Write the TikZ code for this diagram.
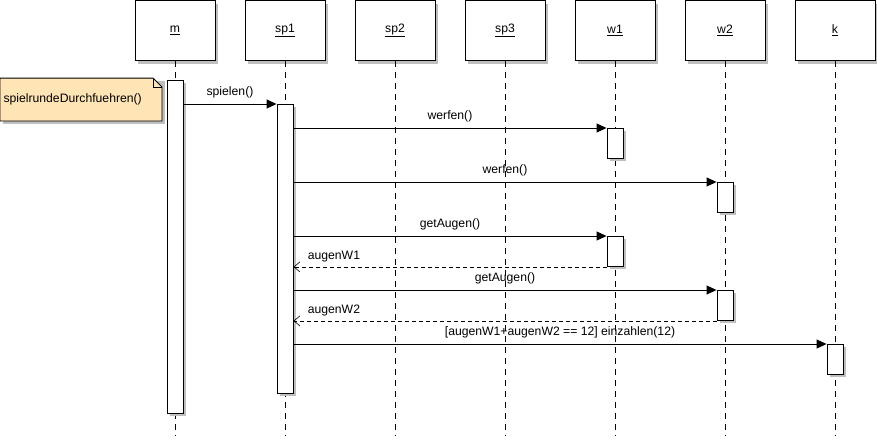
\documentclass[tikz,border=0pt]{standalone}
\usepackage{fontspec}
\setmainfont{Liberation Sans}
\usetikzlibrary{arrows.meta, shadows, calc}
\definecolor{notefill}{RGB}{255,228,181}

\begin{document}
\begin{tikzpicture}[x=1pt, y=-1pt, line width=0.9pt,
  head/.style={draw, fill=white, minimum width=80pt, minimum height=60pt, inner sep=0pt,
    drop shadow={shadow xshift=3pt, shadow yshift=-3pt, fill=black!25, opacity=1}},
  act/.style={draw, fill=white, minimum width=16pt, inner sep=0pt, anchor=north,
    drop shadow={shadow xshift=3pt, shadow yshift=-3pt, fill=black!25, opacity=1}},
  lifeline/.style={dash pattern=on 6pt off 5pt, line width=0.8pt},
  msg/.style={-{Triangle[length=10pt, width=9pt]}},
  ret/.style={-{Straight Barb[length=6pt, width=10pt, line width=0.6pt]}, dash pattern=on 4pt off 3pt, line width=0.6pt},
  retlabel/.style={pos=1, anchor=south west, xshift=10pt, yshift=1pt}]
\fontsize{12.2}{14}\selectfont
\useasboundingbox (0,0) rectangle (877,439);

% lifeline heads
\node[head] at (175,30.5) (m) {\underline{m}};
\node[head] at (285,30.5) (sp1) {\underline{sp1}};
\node[head] at (395,30.5) (sp2) {\underline{sp2}};
\node[head] at (505,30.5) (sp3) {\underline{sp3}};
\node[head] at (615,30.5) (w1) {\underline{w1}};
\node[head] at (725,30.5) (w2) {\underline{w2}};
\node[head] at (835,30.5) (k) {\underline{k}};

% lifelines
\foreach \l/\x in {m/175, sp1/285, sp2/395, sp3/505, w1/615, w2/725, k/835} {
  \coordinate (\l-end) at (\x,436);
  \draw[lifeline] (\l.south) -- (\l-end);
}

% activations
\node[act, minimum height=333pt] at (175,80) (m-act) {};
\node[act, minimum height=289pt] at (285,104) (sp1-act) {};
\node[act, minimum height=30pt] at (615,128) (w1-a1) {};
\node[act, minimum height=30pt] at (725,182) (w2-a1) {};
\node[act, minimum height=30pt] at (615,236) (w1-a2) {};
\node[act, minimum height=30pt] at (725,290) (w2-a2) {};
\node[act, minimum height=30pt] at (835,344) (k-a) {};

% note
\node[inner sep=0pt, minimum width=161pt, minimum height=42pt, text width=155pt] at (81,99.5) (call) {};
\fill[black!25] ($(call.south west)+(3,3)$) rectangle ($(call.north east)+(3,3)$);
\draw[fill=notefill] (call.south west) -- (call.north west) -- ($(call.north east)+(-9,0)$)
  -- ($(call.north east)+(0,9)$) -- (call.south east) -- cycle;
\draw[line width=0.6pt] ($(call.north east)+(-9,0)$) -- ($(call.north east)+(-9,9)$) -- ($(call.north east)+(0,9)$);
\node[inner sep=0pt, text width=155pt] at (call) {spielrundeDurchfuehren()};

% messages
\draw[msg] (m-act.east |- sp1-act.north) -- node[above=1pt] {spielen()} (sp1-act.north west);
\draw[msg] (sp1-act.east |- w1-a1.north) -- node[above=1pt] {werfen()} (w1-a1.north west);
\draw[msg] (sp1-act.east |- w2-a1.north) -- node[above=1pt] {werfen()} (w2-a1.north west);
\draw[msg] (sp1-act.east |- w1-a2.north) -- node[above=1pt] {getAugen()} (w1-a2.north west);
\draw[ret] (w1-a2.south west) -- node[retlabel] {augenW1} (sp1-act.east |- w1-a2.south);
\draw[msg] (sp1-act.east |- w2-a2.north) -- node[above=1pt] {getAugen()} (w2-a2.north west);
\draw[ret] (w2-a2.south west) -- node[retlabel] {augenW2} (sp1-act.east |- w2-a2.south);
\draw[msg] (sp1-act.east |- k-a.north) -- node[above=1pt] {[augenW1+augenW2 == 12] einzahlen(12)} (k-a.north west);
\end{tikzpicture}
\end{document}
